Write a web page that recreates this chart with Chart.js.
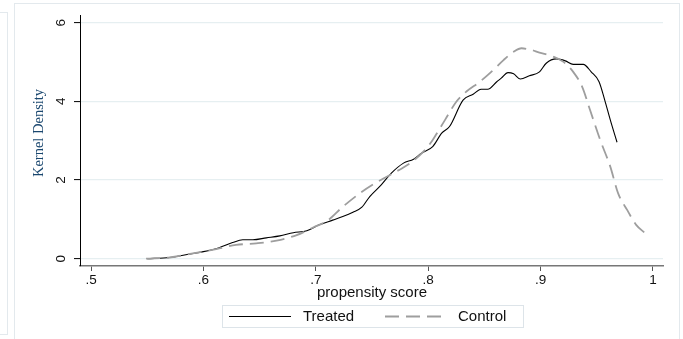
<!DOCTYPE html>
<html>
<head>
<meta charset="utf-8">
<script src="https://cdn.jsdelivr.net/npm/chart.js@4/dist/chart.umd.min.js"></script>
<style>
  html, body { margin: 0; padding: 0; background: #fff; overflow: hidden; }
  #wrap { position: relative; width: 683px; height: 339px; }
  canvas { display: block; }
</style>
</head>
<body>
<div id="wrap"><canvas id="c" width="683" height="339"></canvas></div>
<script>
// Kernel density of the propensity score, treated vs control
const treatedScore   = [0.550, 0.570, 0.588, 0.600, 0.614, 0.626, 0.635, 0.644, 0.656, 0.668, 0.680, 0.692,
                        0.703, 0.715, 0.724, 0.733, 0.741, 0.748, 0.758, 0.767, 0.778, 0.787, 0.794, 0.804,
                        0.812, 0.819, 0.831, 0.840, 0.847, 0.853, 0.861, 0.865, 0.871, 0.876, 0.882, 0.890,
                        0.899, 0.905, 0.914, 0.922, 0.929, 0.938, 0.945, 0.952, 0.957, 0.962, 0.968];
const treatedDensity = [0.00, 0.03, 0.12, 0.18, 0.28, 0.41, 0.48, 0.48, 0.53, 0.58, 0.66, 0.71,
                        0.86, 0.98, 1.07, 1.18, 1.31, 1.58, 1.87, 2.17, 2.43, 2.53, 2.68, 2.85,
                        3.19, 3.36, 4.03, 4.18, 4.31, 4.31, 4.50, 4.59, 4.73, 4.70, 4.57, 4.65,
                        4.75, 4.97, 5.08, 5.03, 4.94, 4.94, 4.75, 4.50, 4.04, 3.53, 2.96];

const controlScore   = [0.549, 0.570, 0.588, 0.600, 0.614, 0.629, 0.647, 0.665, 0.683, 0.698, 0.710, 0.724,
                        0.739, 0.751, 0.766, 0.784, 0.797, 0.804, 0.815, 0.825, 0.834, 0.846, 0.858, 0.867,
                        0.876, 0.883, 0.890, 0.899, 0.911, 0.920, 0.929, 0.937, 0.944, 0.953, 0.962, 0.969,
                        0.977, 0.985, 0.993];
const controlDensity = [0.00, 0.03, 0.12, 0.18, 0.26, 0.35, 0.39, 0.46, 0.60, 0.80, 0.96, 1.32,
                        1.66, 1.89, 2.13, 2.43, 2.76, 3.02, 3.53, 3.99, 4.25, 4.50, 4.80, 5.05,
                        5.26, 5.35, 5.32, 5.24, 5.14, 5.01, 4.75, 4.37, 3.78, 3.02, 2.34, 1.66,
                        1.24, 0.86, 0.65];

const seriesNames = ['Treated', 'Control'];
const xTicks = [0.5, 0.6, 0.7, 0.8, 0.9, 1];
const xTickLabels = ['.5', '.6', '.7', '.8', '.9', '1'];
const yTicks = [0, 2, 4, 6];
const yTickLabels = ['0', '2', '4', '6'];
const xTitle = 'propensity score';
const yTitle = 'Kernel Density';

const toPoints = (xs, ys) => xs.map((x, i) => ({ x: x, y: ys[i] }));

const SANS = '"Liberation Sans", Arial, sans-serif';
const SERIF = '"Liberation Serif", "Times New Roman", serif';

// Panel frames, rotated y labels, axis titles and the boxed legend
const decor = {
  id: 'decor',
  beforeDraw(chart) {
    const ctx = chart.ctx;
    ctx.save();
    ctx.fillStyle = '#ffffff';
    ctx.fillRect(0, 0, chart.width, chart.height);
    ctx.strokeStyle = '#e3e9ed';
    ctx.lineWidth = 1;
    ctx.strokeRect(-1.5, 12.5, 9, 322);
    ctx.strokeRect(14.5, 3.5, 665, 345);
    ctx.restore();
  },
  afterDraw(chart) {
    const ctx = chart.ctx;
    const ys = chart.scales.y;
    ctx.save();

    // y tick labels, vertical
    ctx.fillStyle = '#111';
    ctx.font = '13.5px ' + SANS;
    ctx.textAlign = 'center';
    ctx.textBaseline = 'middle';
    yTicks.forEach((v, i) => {
      ctx.save();
      ctx.translate(61, ys.getPixelForValue(v));
      ctx.rotate(-Math.PI / 2);
      ctx.fillText(yTickLabels[i], 0, 0);
      ctx.restore();
    });

    // y axis title
    ctx.save();
    ctx.fillStyle = '#1a476f';
    ctx.font = '14.5px ' + SERIF;
    ctx.translate(39, 133);
    ctx.rotate(-Math.PI / 2);
    ctx.fillText(yTitle, 0, 0);
    ctx.restore();

    // x axis title
    ctx.fillStyle = '#111';
    ctx.font = '15px ' + SANS;
    ctx.fillText(xTitle, 372, 293);

    // legend
    const ds = chart.data.datasets;
    ctx.strokeStyle = '#dde4e9';
    ctx.lineWidth = 1;
    ctx.strokeRect(222.5, 305.5, 301, 22);
    const ly = 316.5;
    const items = [
      { x0: 229, x1: 291, tx: 303 },
      { x0: 385, x1: 448, tx: 458 }
    ];
    items.forEach((it, i) => {
      const d = ds[i];
      ctx.beginPath();
      ctx.strokeStyle = d.borderColor;
      ctx.lineWidth = d.borderWidth;
      ctx.setLineDash(d.borderDash || []);
      ctx.moveTo(it.x0, ly);
      ctx.lineTo(it.x1, ly);
      ctx.stroke();
      ctx.setLineDash([]);
      ctx.fillStyle = '#111';
      ctx.font = '15px ' + SANS;
      ctx.textAlign = 'left';
      ctx.textBaseline = 'middle';
      ctx.fillText(d.label, it.tx, ly);
    });
    ctx.restore();
  }
};

new Chart(document.getElementById('c'), {
  type: 'line',
  data: {
    datasets: [
      {
        label: seriesNames[0],
        data: toPoints(treatedScore, treatedDensity),
        borderColor: '#000000',
        borderWidth: 1.1,
        pointRadius: 0,
        fill: false,
        order: 1,
        cubicInterpolationMode: 'monotone'
      },
      {
        label: seriesNames[1],
        data: toPoints(controlScore, controlDensity),
        borderColor: '#9e9e9e',
        borderWidth: 1.8,
        borderDash: [14, 7],
        pointRadius: 0,
        fill: false,
        order: 0,
        cubicInterpolationMode: 'monotone'
      }
    ]
  },
  options: {
    responsive: false,
    animation: false,
    devicePixelRatio: 1,
    layout: { padding: { left: 0, top: 15, right: 20, bottom: 0 } },
    plugins: { legend: { display: false }, tooltip: { enabled: false }, title: { display: false } },
    scales: {
      x: {
        type: 'linear',
        min: 0.4902,
        max: 1.0089,
        afterBuildTicks: (s) => { s.ticks = xTicks.map(v => ({ value: v })); },
        afterFit: (s) => { s.height = 73; },
        ticks: {
          autoSkip: false,
          maxRotation: 0,
          padding: 1,
          color: '#111',
          font: { family: SANS, size: 13.5 },
          callback: (v) => { const i = xTicks.indexOf(v); return i >= 0 ? xTickLabels[i] : ''; }
        },
        grid: { drawOnChartArea: false, drawTicks: true, tickLength: 5, tickColor: '#555', tickWidth: 1 },
        border: { display: true, color: '#777', width: 1.5 }
      },
      y: {
        type: 'linear',
        min: -0.186,
        max: 6.196,
        afterBuildTicks: (s) => { s.ticks = yTicks.map(v => ({ value: v })); },
        afterFit: (s) => { s.width = 80; },
        ticks: { display: false },
        grid: { color: '#e6eff1', lineWidth: 1.2, drawTicks: true, tickLength: 6, tickColor: '#000', tickWidth: 1 },
        border: { display: true, color: '#000', width: 1 }
      }
    }
  },
  plugins: [decor]
});
</script>
</body>
</html>
